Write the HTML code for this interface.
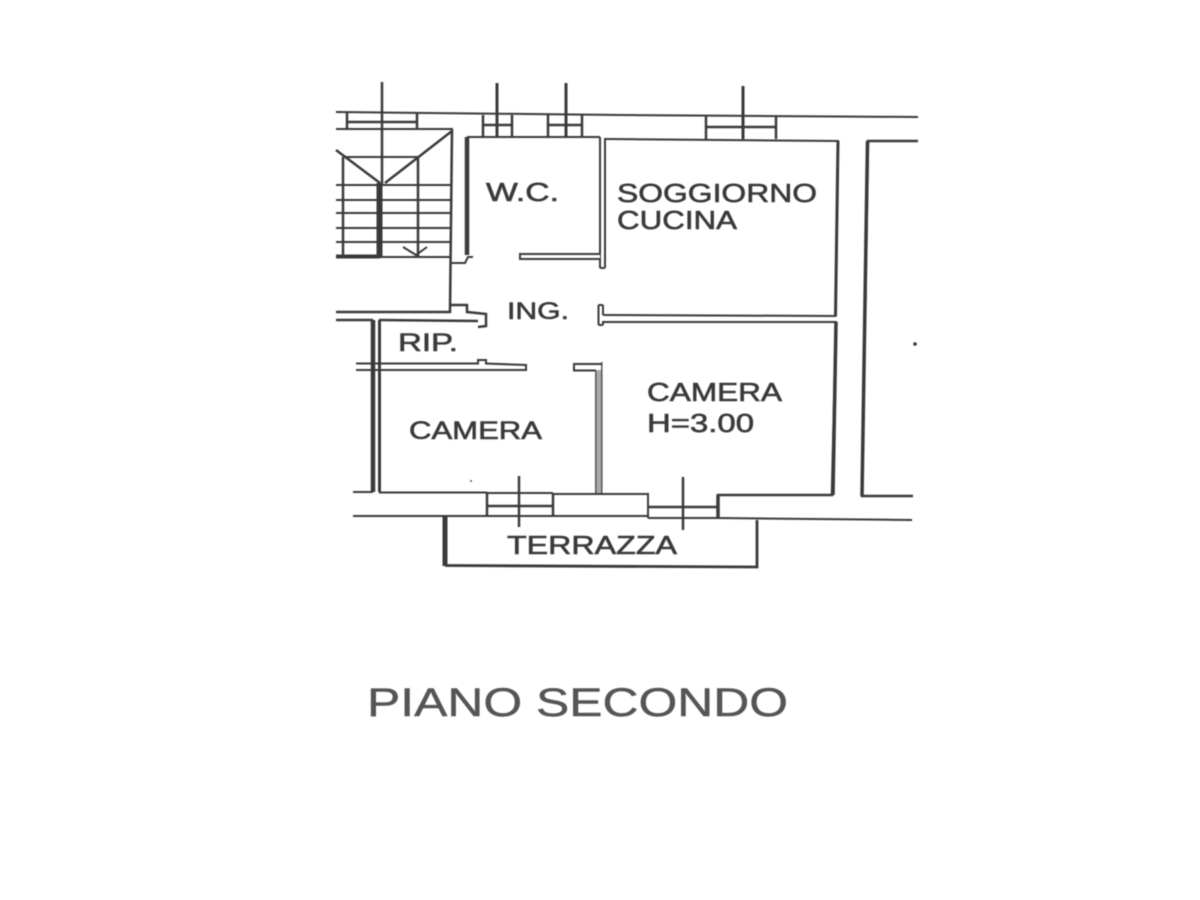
<!DOCTYPE html>
<html lang="it">
<head>
<meta charset="utf-8">
<title>Piano secondo</title>
<style>
html,body{margin:0;padding:0;background:#fff;width:1200px;height:900px;overflow:hidden}
svg{display:block}
text{font-family:"Liberation Sans",sans-serif;fill:#3a3a3a;stroke:#3a3a3a;stroke-width:.6}
</style>
</head>
<body>
<svg width="1200" height="900" viewBox="0 0 1200 900" xmlns="http://www.w3.org/2000/svg">
<rect width="1200" height="900" fill="#fff"/>
<g fill="none" stroke="#3a3a3a" stroke-width="2" style="filter:blur(.55px)">
  <!-- exterior top -->
  <path d="M336 112L620 115L918 117"/>
  <path d="M336 129H453"/>
  <!-- staircase -->
  <path d="M347 112V129M417 112V129M347 122H417" stroke-width="2.5"/>
  <path d="M382 82V185" stroke-width="2.5"/>
  <path d="M379.500 183V257" stroke-width="6"/>
  <path d="M336 150L380 183M452 131L385 183" stroke-width="2.5"/>
  <path d="M343 157H418"/>
  <path d="M343 157V256M418 157V256" stroke-width="2.5"/>
  <path d="M336 185H451M336 200H451M336 213H451M336 228H451M336 242H451M380 257H451"/>
  <path d="M336 256.500H380" stroke-width="4"/>
  <path d="M403 247L416 255L427 247"/>
  <path d="M452 130L450 312H336" stroke-width="2.5"/>
  <!-- WC -->
  <path d="M467 137V255" stroke-width="4.500"/>
  <path d="M467 137H600"/>
  <path d="M451 263H465L468 257H473"/>
  <path d="M600 137V268M605 138V268M600 268H605" stroke-width="2"/>
  <path d="M600 254H520V259H600" fill="#fff" stroke-width="2"/>
  <!-- WC windows -->
  <path d="M483 115V137M512 115V137M483 125H512M548 115V137M582 115V137M548 125H582" stroke-width="2.500"/>
  <path d="M497 83V137M566 83V137" stroke-width="3"/>
  <!-- Soggiorno -->
  <path d="M606 139L838 141L835.500 316L603 315"/>
  <path d="M838 141L835.500 316" stroke-width="3"/>
  <path d="M706 116V139M776 116V139M706 127H776" stroke-width="2.500"/>
  <path d="M743 86V139" stroke-width="3"/>
  <!-- ING stub + Camera right -->
  <path d="M598.500 305V325M603 305V315M603 325V322L837 322" stroke-width="2"/>
  <path d="M598.500 305H603M598.500 325H603"/>
  <path d="M836 322L832 495H718V518" stroke-width="2.500"/>
  <path d="M836 322L833 495" stroke-width="3.500"/>
  <path d="M718 495V518" stroke-width="3.500"/>
  <path d="M648 518V494H553"/>
  <path d="M649 507H717" stroke-width="2.500"/>
  <path d="M683 477V530" stroke-width="2.500"/>
  <!-- right block -->
  <path d="M918 141H868L862 496H913" stroke-width="2.500"/>
  <path d="M867.500 141L862 496" stroke-width="3.500"/>
  <circle cx="915" cy="344" r="1.800" fill="#333" stroke="none"/>
  <!-- landing -->
  <path d="M450 305H467V312L486 314V326L478 327" stroke-width="2.500"/>
  <path d="M336 320H373M379 320L478 321" stroke-width="2.500"/>
  <!-- Rip + camera left -->
  <path d="M373 320V492" stroke-width="4.500"/>
  <path d="M379.500 320V492" stroke-width="3"/>
  <path d="M356 363.500H478V360H486V363.500L526 365V370H356" stroke-width="2"/>
  <path d="M598.800 370V493" stroke="#aaa" stroke-width="5"/>
  <path d="M595.800 371V493M601.800 362V493" stroke="#555" stroke-width="1.500"/>
  <path d="M601.800 364H574V370.500H596" stroke-width="2"/>
  <!-- bottom -->
  <path d="M353 492H373M379 492.500H487"/>
  <path d="M487 493H553" stroke-width="2"/>
  <path d="M353 516H648" stroke-width="2"/>
  <path d="M648 518H717"/>
  <path d="M717 518L912 520"/>
  <path d="M487 493V517M553 494V517M487 506H553" stroke-width="2.500"/>
  <path d="M519 476V527" stroke-width="2.500"/>
  <!-- terrace -->
  <path d="M445 517V566" stroke-width="5"/>
  <path d="M445 565.500L757 567V520" stroke-width="2.800"/>
  <circle cx="471" cy="481" r="1" fill="#555" stroke="none"/>
</g>
<g style="filter:blur(.5px)">
  <text x="486" y="201" font-size="26" textLength="73" lengthAdjust="spacingAndGlyphs">W.C.</text>
  <text x="617" y="202" font-size="26" textLength="200" lengthAdjust="spacingAndGlyphs">SOGGIORNO</text>
  <text x="617" y="229" font-size="26" textLength="120" lengthAdjust="spacingAndGlyphs">CUCINA</text>
  <text x="507" y="319" font-size="24" textLength="62" lengthAdjust="spacingAndGlyphs">ING.</text>
  <text x="398" y="351" font-size="25" textLength="60" lengthAdjust="spacingAndGlyphs">RIP.</text>
  <text x="409" y="439" font-size="25" textLength="133" lengthAdjust="spacingAndGlyphs">CAMERA</text>
  <text x="647" y="401" font-size="26" textLength="135" lengthAdjust="spacingAndGlyphs">CAMERA</text>
  <text x="647" y="432" font-size="26" textLength="107" lengthAdjust="spacingAndGlyphs">H=3.00</text>
  <text x="507" y="554" font-size="26" textLength="170" lengthAdjust="spacingAndGlyphs">TERRAZZA</text>
  <text x="367" y="716" font-size="40" textLength="421" lengthAdjust="spacingAndGlyphs" style="fill:#555;stroke:#555;stroke-width:.4">PIANO SECONDO</text>
</g>
</svg>
</body>
</html>
